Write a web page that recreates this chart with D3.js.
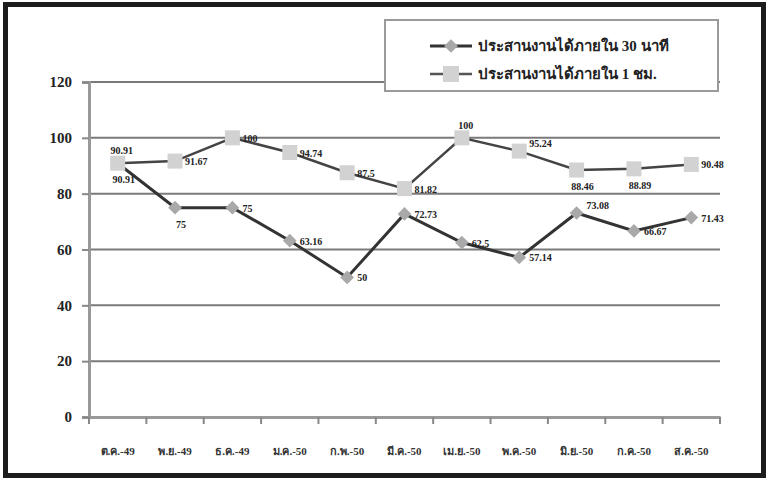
<!DOCTYPE html>
<html>
<head>
<meta charset="utf-8">
<script src="https://cdn.jsdelivr.net/npm/d3@7"></script>
<style>
  html, body { margin: 0; padding: 0; background: #fff; }
  svg { display: block; }
  text { font-family: "Liberation Serif", "DejaVu Serif", serif; font-weight: bold; }
</style>
</head>
<body>
<svg id="chart" width="769" height="480"></svg>
<script>
// Monthly coordination performance (percent)
const months = ["ต.ค.-49", "พ.ย.-49", "ธ.ค.-49", "ม.ค.-50", "ก.พ.-50", "มี.ค.-50",
                "เม.ย.-50", "พ.ค.-50", "มิ.ย.-50", "ก.ค.-50", "ส.ค.-50"];
const within30min = [90.91, 75, 75, 63.16, 50, 72.73, 62.5, 57.14, 73.08, 66.67, 71.43];
const within1hr = [90.91, 91.67, 100, 94.74, 87.5, 81.82, 100, 95.24, 88.46, 88.89, 90.48];
const seriesNames = ["ประสานงานได้ภายใน 30 นาที", "ประสานงานได้ภายใน 1 ชม."];
const yTicks = [0, 20, 40, 60, 80, 100, 120];

const svg = d3.select("#chart");

// outer frame
svg.append("rect")
  .attr("x", 5.5).attr("y", 4.5).attr("width", 758).attr("height", 471)
  .attr("fill", "none").attr("stroke", "#1c1c1c").attr("stroke-width", 5);

const plot = { left: 89, right: 720, top: 82, bottom: 417 };

const x = d3.scaleBand().domain(months).range([plot.left, plot.right]);
const y = d3.scaleLinear().domain([0, 120]).range([plot.bottom, plot.top]);
const cx = m => x(m) + x.bandwidth() / 2;

// horizontal gridlines
svg.append("g")
  .selectAll("line")
  .data(yTicks.filter(t => t > 0))
  .join("line")
  .attr("x1", plot.left).attr("x2", plot.right)
  .attr("y1", d => y(d)).attr("y2", d => y(d))
  .attr("stroke", "#7a7a7a").attr("stroke-width", 2);

// y axis
const yAxis = svg.append("g")
  .attr("transform", `translate(${plot.left},0)`)
  .call(d3.axisLeft(y).tickValues(yTicks).tickSize(7).tickPadding(10));
yAxis.select(".domain").attr("stroke", "#999").attr("stroke-width", 3);
yAxis.selectAll(".tick line").attr("stroke", "#888").attr("stroke-width", 2);
yAxis.selectAll(".tick text")
  .attr("fill", "#222").attr("font-size", 15)
  .style("font-family", '"Liberation Serif", serif').style("font-weight", "bold");

// x axis with ticks at band boundaries
const xAxis = svg.append("g")
  .attr("transform", `translate(0,${plot.bottom})`)
  .call(d3.axisBottom(x).tickSize(0).tickPadding(30));
xAxis.select(".domain").attr("stroke", "#999").attr("stroke-width", 3);
xAxis.selectAll(".tick text")
  .attr("fill", "#333").attr("font-size", 11)
  .style("font-weight", "bold");
xAxis.selectAll(".boundary")
  .data(months.map(m => x(m)).concat([plot.right]))
  .join("line")
  .attr("class", "boundary")
  .attr("x1", d => d).attr("x2", d => d)
  .attr("y1", 0).attr("y2", 7)
  .attr("stroke", "#888").attr("stroke-width", 2);

const lineGen = d3.line().x(d => cx(d.m)).y(d => y(d.v));
const pts30 = months.map((m, i) => ({ m, v: within30min[i] }));
const pts1h = months.map((m, i) => ({ m, v: within1hr[i] }));

// 30-minute series
svg.append("path").datum(pts30)
  .attr("d", lineGen).attr("fill", "none")
  .attr("stroke", "#333").attr("stroke-width", 3);
svg.append("g").selectAll("path")
  .data(pts30).join("path")
  .attr("d", d3.symbol(d3.symbolDiamond2, 120))
  .attr("transform", d => `translate(${cx(d.m)},${y(d.v)})`)
  .attr("fill", "#a9a9a9");

// 1-hour series
svg.append("path").datum(pts1h)
  .attr("d", lineGen).attr("fill", "none")
  .attr("stroke", "#444").attr("stroke-width", 2.5);
svg.append("g").selectAll("rect")
  .data(pts1h).join("rect")
  .attr("x", d => cx(d.m) - 7.5).attr("y", d => y(d.v) - 7.5)
  .attr("width", 15).attr("height", 15)
  .attr("fill", "#d2d2d2");

// value labels: placement per point (r = right, b = below, a = above)
const place30 = ["b", "b", "r", "r", "r", "r", "r", "r", "ar", "r", "r"];
const place1h = ["a", "r", "r", "r", "r", "r", "a", "ar", "b", "b", "r"];
const offsets = {
  r:  { dx: 10, dy: 4, anchor: "start" },
  ar: { dx: 10, dy: -4, anchor: "start" },
  a:  { dx: 4, dy: -9, anchor: "middle" },
  b:  { dx: 6, dy: 20, anchor: "middle" }
};
function drawLabels(pts, place) {
  svg.append("g").selectAll("text")
    .data(pts).join("text")
    .attr("x", (d, i) => cx(d.m) + offsets[place[i]].dx)
    .attr("y", (d, i) => y(d.v) + offsets[place[i]].dy)
    .attr("text-anchor", (d, i) => offsets[place[i]].anchor)
    .attr("font-size", 10).attr("fill", "#222")
    .text(d => d.v);
}
drawLabels(pts30, place30);
drawLabels(pts1h, place1h);

// legend
const lg = svg.append("g");
lg.append("rect")
  .attr("x", 385).attr("y", 20).attr("width", 333).attr("height", 71)
  .attr("fill", "#fff").attr("stroke", "#9a9a9a").attr("stroke-width", 2);
const legendRows = [
  { name: seriesNames[0], yy: 46, stroke: "#333", sw: 3, mark: "diamond" },
  { name: seriesNames[1], yy: 74, stroke: "#555", sw: 2.5, mark: "square" }
];
legendRows.forEach(r => {
  lg.append("line").attr("x1", 430).attr("x2", 472)
    .attr("y1", r.yy).attr("y2", r.yy)
    .attr("stroke", r.stroke).attr("stroke-width", r.sw);
  if (r.mark === "diamond") {
    lg.append("path").attr("d", d3.symbol(d3.symbolDiamond2, 120))
      .attr("transform", `translate(451,${r.yy})`).attr("fill", "#a9a9a9");
  } else {
    lg.append("rect").attr("x", 443).attr("y", r.yy - 8)
      .attr("width", 16).attr("height", 16).attr("fill", "#d2d2d2");
  }
  lg.append("text").attr("x", 478).attr("y", r.yy + 5)
    .attr("font-size", 15).attr("fill", "#222").text(r.name);
});
</script>
</body>
</html>
